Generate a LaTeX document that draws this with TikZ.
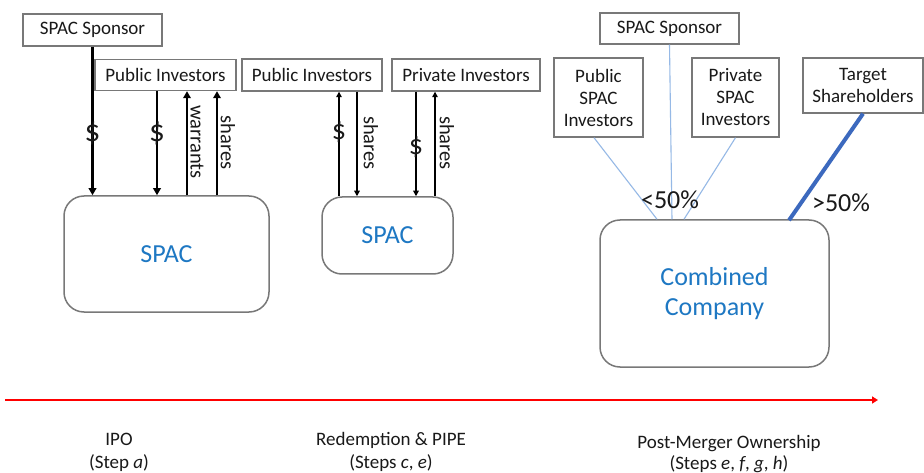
\documentclass[tikz,border=0pt]{standalone}
\usepackage{fontspec}
\setmainfont{Carlito}
\usetikzlibrary{arrows.meta}
\definecolor{spacblue}{RGB}{30,120,195}
\definecolor{boxgray}{RGB}{120,120,120}
\definecolor{txt}{RGB}{25,25,25}
\definecolor{lightblue}{RGB}{150,185,230}
\definecolor{strongblue}{RGB}{60,105,190}
\begin{document}
\begin{tikzpicture}[x=1pt,y=-1pt,
  lbl/.style={font=\fontsize{19}{22}\selectfont, text=txt},
  sqbox/.style={draw=boxgray, line width=1.4pt, fill=white, inner sep=0pt, lbl, align=center},
  rbox/.style={draw=boxgray, line width=1.5pt, rounded corners=20pt, inner sep=0pt, align=center,
     font=\fontsize{26}{30}\selectfont, text=spacblue},
  thickarr/.style={line width=2.2pt, -{Triangle[width=7.5pt,length=7pt]}},
  thinarr/.style={line width=1.3pt, -{Triangle[width=5.5pt,length=5.5pt]}},
  dollar/.style={font=\fontsize{31}{31}\selectfont, text=txt, inner sep=0pt},
  dollarsm/.style={font=\fontsize{28}{28}\selectfont, text=txt, inner sep=0pt},
  vlab/.style={font=\fontsize{20.5}{22}\selectfont, text=txt, rotate=-90, inner sep=0pt},
  pct/.style={font=\fontsize{26}{28}\selectfont, text=txt, inner sep=0pt},
  steplbl/.style={font=\fontsize{19}{23}\selectfont, text=txt, align=center, inner sep=0pt},
  own/.style={draw=lightblue, line width=1.1pt}
]
\useasboundingbox[fill=white] (0,0) rectangle (924,473);

% ---------- IPO ----------
\node[sqbox, minimum width=139pt, minimum height=32pt] (spon1) at (92.5,30) {SPAC Sponsor};
\node[sqbox, minimum width=141pt, minimum height=31pt] (pub1) at (165.5,75) {Public Investors};
\node[rbox, minimum width=205pt, minimum height=116pt] (spac1) at (166.5,254) {SPAC};

\draw[thickarr] (spon1.south) -- (spon1.south |- spac1.north);
\draw[thickarr] (pub1.south -| 157,0) -- (spac1.north -| 157,0);
\draw[thickarr] (spac1.north -| 187,0) -- (pub1.south -| 187,0);
\draw[thickarr] (spac1.north -| 217,0) -- (pub1.south -| 217,0);
\node[dollar] (d1) at (92.5,133) {\$};
\node[dollar] (d2) at (157,133) {\$};
\node[vlab] (w1) at (197,142) {warrants};
\node[vlab] (s1) at (228,142.5) {shares};

% ---------- Redemption & PIPE ----------
\node[sqbox, minimum width=140pt, minimum height=32pt] (pub2) at (312,75) {Public Investors};
\node[sqbox, minimum width=148pt, minimum height=32pt] (priv2) at (466,75) {Private Investors};
\node[rbox, minimum width=131pt, minimum height=77pt] (spac2) at (387.5,235.5) {SPAC};

\draw[thinarr] (spac2.north -| 339,0) -- (pub2.south -| 339,0);
\draw[thinarr] (pub2.south -| 357,0) -- (spac2.north -| 357,0);
\draw[thinarr] (priv2.south -| 416,0) -- (spac2.north -| 416,0);
\draw[thinarr] (spac2.north -| 435,0) -- (priv2.south -| 435,0);
\node[dollarsm] (d3) at (339,132) {\$};
\node[dollarsm] (d4) at (416,147) {\$};
\node[vlab] (s2) at (371,143) {shares};
\node[vlab] (s3) at (447,143) {shares};

% ---------- Post-Merger ----------
\node[sqbox, minimum width=139pt, minimum height=31pt] (spon3) at (669.5,28.5) {SPAC Sponsor};
\node[sqbox, minimum width=89pt, minimum height=79pt] (pubs) at (598.5,97.5) {Public\\SPAC\\Investors};
\node[sqbox, minimum width=87pt, minimum height=79pt] (privs) at (735.5,97.5) {Private\\SPAC\\Investors};
\node[sqbox, minimum width=120pt, minimum height=55pt] (tgt) at (863,85.5) {Target\\Shareholders};
\node[rbox, minimum width=229pt, minimum height=147pt] (comb) at (714.5,293.5) {Combined\\Company};

\draw[own] ([xshift=-4.5pt]pubs.south) -- ([xshift=-57.5pt]comb.north);
\draw[own] (spon3.south) -- ([xshift=-42.5pt]comb.north);
\draw[own] (privs.south) -- ([xshift=-30.5pt]comb.north);
\draw[draw=strongblue, line width=4pt] (tgt.south) -- ([xshift=74.5pt,yshift=-1pt]comb.north);
\node[pct] (lt) at (670,200) {<50\%};
\node[pct] (gt) at (841,203) {>50\%};

% ---------- timeline ----------
\coordinate (t0) at (5,400);
\coordinate (t1) at (878,400);
\draw[red, line width=1.8pt, -{Triangle[width=7pt,length=6pt]}] (t0) -- (t1);

\node[steplbl] (ipo) at (119,452) {IPO\\(Step \textit{a})};
\node[steplbl] (red) at (391,452) {Redemption \& PIPE\\(Steps \textit{c}, \textit{e})};
\node[steplbl] (post) at (729,454) {Post-Merger Ownership\\[-2pt](Steps \textit{e}, \textit{f}, \textit{g}, \textit{h})};
\end{tikzpicture}
\end{document}
